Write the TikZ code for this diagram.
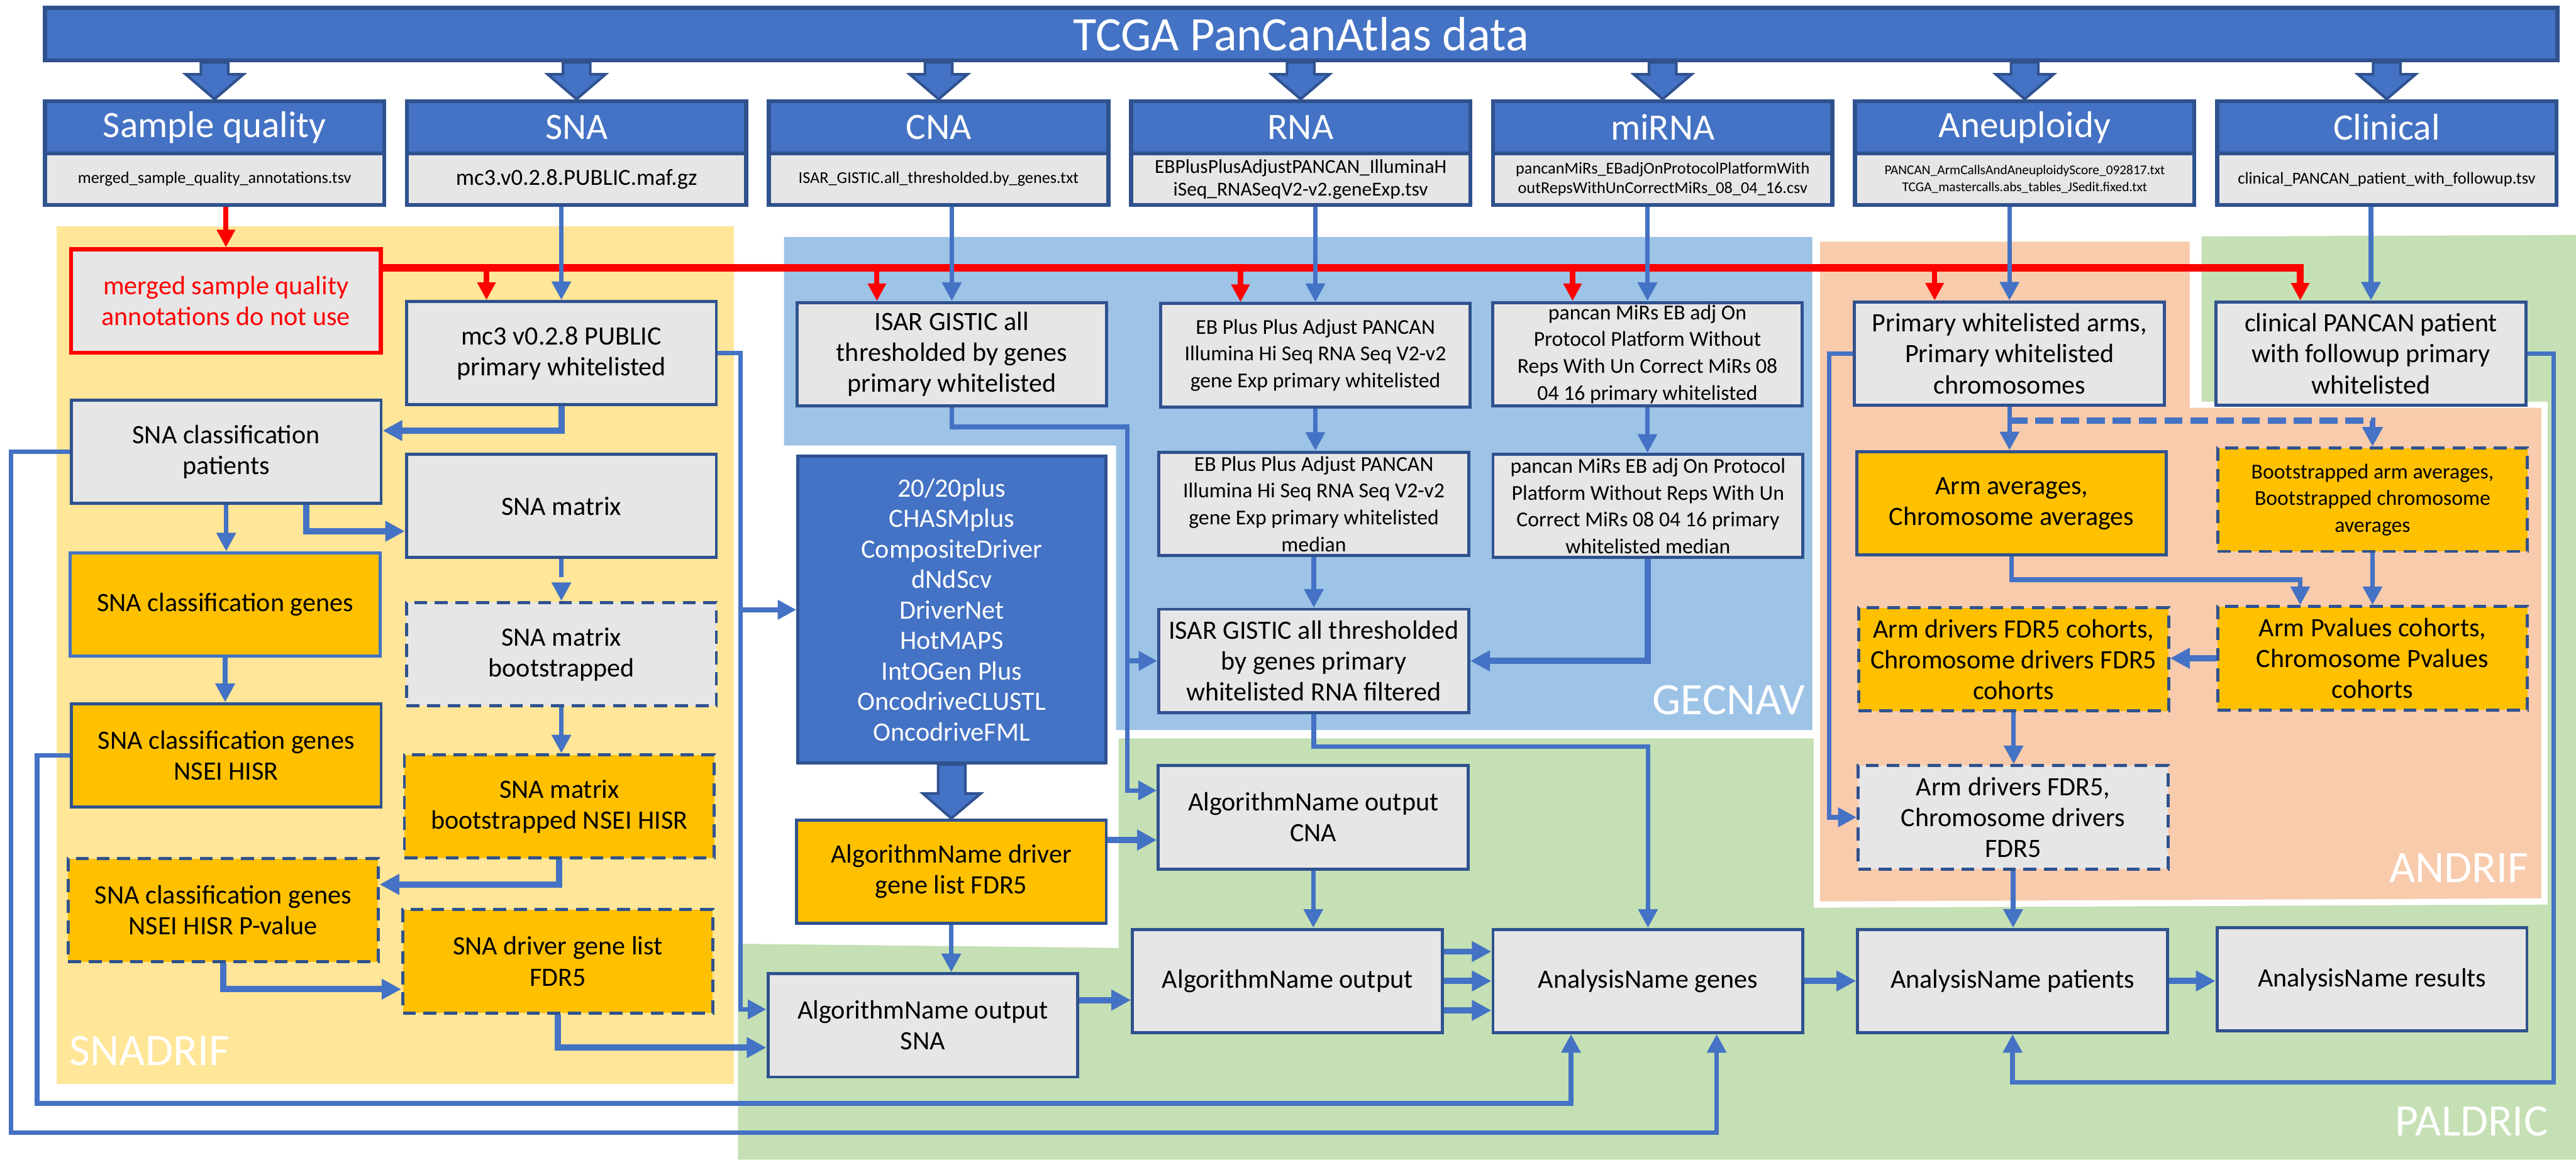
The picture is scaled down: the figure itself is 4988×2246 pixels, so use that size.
\documentclass[tikz,border=0pt]{standalone}
\usepackage{fontspec}
\setmainfont{Carlito}
\usetikzlibrary{arrows.meta,calc}

\definecolor{hdrblue}{HTML}{4472C4}
\definecolor{edgeblue}{HTML}{2F528F}
\definecolor{boxgray}{HTML}{E7E6E6}
\definecolor{boxorange}{HTML}{FFC000}
\definecolor{snayellow}{HTML}{FFE699}
\definecolor{gecblue}{HTML}{9DC3E6}
\definecolor{anpeach}{HTML}{F8CBAD}
\definecolor{palgreen}{HTML}{C5E0B4}

\tikzset{
  colhead/.style={draw=edgeblue, fill=hdrblue, line width=0.8mm, minimum width=65.7mm, minimum height=10.1mm, inner sep=0pt, text=white, font=\fontsize{20.5pt}{24pt}\selectfont},
  colfile/.style={draw=edgeblue, fill=boxgray, line width=0.8mm, minimum width=65.7mm, minimum height=10mm, inner sep=0pt, align=center},
  gbox/.style={draw=edgeblue, fill=boxgray, line width=0.6mm, minimum width=60mm, minimum height=20mm, inner sep=0pt, align=center, font=\fontsize{14.6pt}{17pt}\selectfont},
  obox/.style={gbox, fill=boxorange},
  dbox/.style={dash pattern=on 2.5mm off 1.5mm},
  smalltext/.style={font=\fontsize{11.7pt}{14.8pt}\selectfont},
  conn/.style={hdrblue, line width=0.9mm, -{Triangle[width=3.6mm,length=3.6mm]}},
  fat/.style={hdrblue, line width=1.2mm, -{Triangle[width=3.8mm,length=3.8mm]}},
  dconn/.style={fat, dash pattern=on 3.5mm off 1.5mm},
  redarr/.style={red, line width=1mm, -{Triangle[width=3.4mm,length=3.4mm]}},
  blockarr/.style={fill=hdrblue, draw=edgeblue, line width=0.5mm},
  arealabel/.style={text=white, inner sep=0pt, font=\fontsize{24.8pt}{28pt}\selectfont}
}

% wide block arrow pointing down
\newcommand{\blockdown}[2]{%
  \path[blockarr] let \p1=(#1), \p2=(#2) in
    (\x1-2.65mm,\y1) -- (\x1+2.65mm,\y1) -- (\x1+2.65mm,\y2+4.8mm) -- (\x1+5.6mm,\y2+4.8mm)
    -- (\x2,\y2) -- (\x1-5.6mm,\y2+4.8mm) -- (\x1-2.65mm,\y2+4.8mm) -- cycle;}

\begin{document}
\begin{tikzpicture}[x=0.1mm,y=-0.1mm]
\useasboundingbox (0,0) rectangle (4988,2246);

% areas
\fill[snayellow] (109,438) rectangle (1421,2099);
\fill[palgreen] (1429,1828) -- (2166,1836) -- (2166,1430) -- (3514,1430) -- (3514,786) -- (4263,786) -- (4263,458) -- (4988,455) -- (4988,2246) -- (1429,2246) -- cycle;
\fill[gecblue] (1518,459) -- (3509,459) -- (3509,1414) -- (2161,1414) -- (2161,863) -- (1518,863) -- cycle;
\filldraw[fill=anpeach, draw=white, line width=1.2mm] (3518,462) -- (4246,462) -- (4246,784) -- (4927,784) -- (4927,1746) -- (3518,1752) -- cycle;

% header and data sources
\node[draw=edgeblue, fill=hdrblue, line width=0.8mm, minimum width=486.5mm, minimum height=10.2mm, inner sep=0pt, text=white, font=\fontsize{26.5pt}{30pt}\selectfont] (hdr) at (2519.5,66) {TCGA PanCanAtlas data};

\node[colhead] (sqH) at (415.5,246.5) {Sample quality};
\node[colhead] (snaH) at (1116.5,246.5) {SNA};
\node[colhead] (cnaH) at (1817.5,246.5) {CNA};
\node[colhead] (rnaH) at (2518.5,246.5) {RNA};
\node[colhead] (mirH) at (3219.5,246.5) {miRNA};
\node[colhead] (aneH) at (3920.5,246.5) {Aneuploidy};
\node[colhead] (cliH) at (4621.5,246.5) {Clinical};

\node[colfile, font=\fontsize{9.1pt}{11pt}\selectfont] (sqF) at (415.5,347) {merged\_sample\_quality\_annotations.tsv};
\node[colfile, font=\fontsize{12.7pt}{15pt}\selectfont] (snaF) at (1116.5,347) {mc3.v0.2.8.PUBLIC.maf.gz};
\node[colfile, font=\fontsize{9.1pt}{11pt}\selectfont] (cnaF) at (1817.5,347) {ISAR\_GISTIC.all\_thresholded.by\_genes.txt};
\node[colfile, font=\fontsize{10.9pt}{12.5pt}\selectfont] (rnaF) at (2518.5,347) {EBPlusPlusAdjustPANCAN\_IlluminaH\\iSeq\_RNASeqV2-v2.geneExp.tsv};
\node[colfile, font=\fontsize{9.1pt}{10.5pt}\selectfont] (mirF) at (3219.5,347) {pancanMiRs\_EBadjOnProtocolPlatformWith\\outRepsWithUnCorrectMiRs\_08\_04\_16.csv};
\node[colfile, font=\fontsize{7.4pt}{9.4pt}\selectfont] (aneF) at (3920.5,347) {PANCAN\_ArmCallsAndAneuploidyScore\_092817.txt\\TCGA\_mastercalls.abs\_tables\_JSedit.fixed.txt};
\node[colfile, font=\fontsize{9.2pt}{11pt}\selectfont] (cliF) at (4621.5,347) {clinical\_PANCAN\_patient\_with\_followup.tsv};

% whitelisted inputs
\node[gbox, draw=red, line width=0.8mm, text=red] (bad) at (437.5,583) {merged sample quality\\annotations do not use};
\node[gbox] (mc3P) at (1087,684) {mc3 v0.2.8 PUBLIC\\primary whitelisted};
\node[gbox] (cnaP) at (1843,686) {ISAR GISTIC all\\thresholded by genes\\primary whitelisted};
\node[gbox, smalltext] (rnaP) at (2547,688) {EB Plus Plus Adjust PANCAN\\Illumina Hi Seq RNA Seq V2-v2\\gene Exp primary whitelisted};
\node[gbox, smalltext] (mirP) at (3190,686) {pancan MiRs EB adj On\\Protocol Platform Without\\Reps With Un Correct MiRs 08\\04 16 primary whitelisted};
\node[gbox] (aneP) at (3891,685) {Primary whitelisted arms,\\Primary whitelisted\\chromosomes};
\node[gbox] (cliP) at (4591,685) {clinical PANCAN patient\\with followup primary\\whitelisted};

% SNADRIF
\node[gbox] (patients) at (438,875) {SNA classification\\patients};
\node[gbox] (matrix) at (1087,980) {SNA matrix};
\node[obox, draw=hdrblue] (classGenes) at (436,1171) {SNA classification genes};
\node[gbox, dbox] (boot) at (1087,1267) {SNA matrix\\bootstrapped};
\node[obox] (nsei) at (438,1463) {SNA classification genes\\NSEI HISR};
\node[obox, dbox] (bootNsei) at (1083,1562) {SNA matrix\\bootstrapped NSEI HISR};
\node[obox, dbox] (pvalS) at (432,1763) {SNA classification genes\\NSEI HISR P-value};
\node[obox, dbox] (drvList) at (1080,1862) {SNA driver gene list\\FDR5};

% driver algorithms
\node[draw=edgeblue, fill=hdrblue, line width=0.6mm, minimum width=59.6mm, minimum height=59.4mm, inner sep=0pt, align=center, text=white, font=\fontsize{14.6pt}{16.8pt}\selectfont] (algo) at (1843,1181) {20/20plus\\CHASMplus\\CompositeDriver\\dNdScv\\DriverNet\\HotMAPS\\IntOGen Plus\\OncodriveCLUSTL\\OncodriveFML};
\node[obox] (algoList) at (1842,1688) {AlgorithmName driver\\gene list FDR5};

% GECNAV
\node[gbox, smalltext] (rnaM) at (2544,976) {EB Plus Plus Adjust PANCAN\\Illumina Hi Seq RNA Seq V2-v2\\gene Exp primary whitelisted\\median};
\node[gbox, smalltext] (mirM) at (3191,980) {pancan MiRs EB adj On Protocol\\Platform Without Reps With Un\\Correct MiRs 08 04 16 primary\\whitelisted median};
\node[gbox] (filtered) at (2544,1280) {ISAR GISTIC all thresholded\\by genes primary\\whitelisted RNA filtered};

% ANDRIF
\node[obox] (armAvg) at (3895,975) {Arm averages,\\Chromosome averages};
\node[obox, dbox, smalltext] (bootArm) at (4594,968) {Bootstrapped arm averages,\\Bootstrapped chromosome\\averages};
\node[obox, dbox] (pvalA) at (4594,1275) {Arm Pvalues cohorts,\\Chromosome Pvalues\\cohorts};
\node[obox, dbox] (armDrC) at (3899,1277) {Arm drivers FDR5 cohorts,\\Chromosome drivers FDR5\\cohorts};
\node[gbox, dbox] (armDr) at (3898,1583) {Arm drivers FDR5,\\Chromosome drivers\\FDR5};

% PALDRIC
\node[gbox] (snaOut) at (1787,1986) {AlgorithmName output\\SNA};
\node[gbox] (cnaOut) at (2543,1583) {AlgorithmName output\\CNA};
\node[gbox] (algOut) at (2493,1900) {AlgorithmName output};
\node[gbox] (genes) at (3191,1900) {AnalysisName genes};
\node[gbox] (patA) at (3897,1900) {AnalysisName patients};
\node[gbox] (results) at (4593,1897) {AnalysisName results};

% area names
\node[arealabel, anchor=base west] (snadrif) at (134,2064) {SNADRIF};
\node[arealabel, anchor=base east] (gecnav) at (3496,1384) {GECNAV};
\node[arealabel, anchor=base east] (andrif) at (4897,1709) {ANDRIF};
\node[arealabel, anchor=base east] (paldric) at (4934,2200) {PALDRIC};

% sample quality filter (red)
\coordinate (trunk) at ([yshift=6.4mm]bad.east);
\draw[redarr] (sqF.south -| bad.north) -- (bad.north);
\coordinate (dcliP) at ([xshift=-13.7mm]cliP.north);
\draw[redarr, line width=1.4mm] (trunk) -| (dcliP);
\foreach \n in {mc3P,cnaP,rnaP,mirP,aneP} {
  \coordinate (d\n) at ([xshift=-14.5mm]\n.north);
  \draw[redarr] (d\n |- trunk) -- (d\n);
}

% data files into whitelisted boxes
\foreach \f/\t in {snaF/mc3P,cnaF/cnaP,rnaF/rnaP,mirF/mirP,aneF/aneP,cliF/cliP}
  \draw[conn] (\f.south -| \t.north) -- (\t.north);

% SNADRIF flow
\draw[fat] (mc3P.south) |- ([yshift=4.1mm]patients.east);
\draw[conn] (patients.south) -- (patients.south |- classGenes.north);
\draw[fat] ([xshift=15.5mm]patients.south) |- ([yshift=-4.9mm]matrix.west);
\draw[conn, dash pattern=on 3.5mm off 1.3mm] (matrix.south) -- (boot.north);
\draw[conn] (classGenes.south) -- (classGenes.south |- nsei.north);
\draw[conn] (boot.south) -- (boot.south |- bootNsei.north);
\draw[fat] (bootNsei.south) |- ([yshift=5mm]pvalS.east);
\draw[fat] (pvalS.south) |- ([yshift=-5.4mm]drvList.west);
\draw[fat] (drvList.south) |- ([yshift=-4.3mm]snaOut.west);

% long loops to AnalysisName genes
\coordinate (loopA) at (72,2137);
\coordinate (loopB) at (21,2194);
\draw[conn] (nsei.west) -| (loopA) -| ([xshift=-14.9mm]genes.south);
\draw[conn] (patients.west) -| (loopB) -| ([xshift=13.3mm]genes.south);

% whitelisted SNA to algorithms
\coordinate (mcBus) at (1434,1955);
\draw[conn] (mc3P.east) -| (mcBus) |- ([yshift=3.1mm]snaOut.west);
\draw[conn] (mcBus |- algo.west) -- (algo.west);
\blockdown{algo.south}{algoList.north}
\draw[conn] (algoList.south) -- (algoList.south |- snaOut.north);
\coordinate (cnaIn) at ([yshift=-4.4mm]cnaOut.west);
\draw[fat] (algoList.east |- cnaIn) -- (cnaIn);

% GECNAV flow
\coordinate (cnaBus) at (2183,827);
\draw[conn] (cnaP.south) |- (cnaBus) |- ([yshift=5.2mm]cnaOut.west);
\draw[conn] (cnaBus |- filtered.west) -- (filtered.west);
\draw[conn] (rnaP.south) -- (rnaP.south |- rnaM.north);
\draw[conn] (rnaM.south) -- (filtered.north);
\draw[conn] (mirP.south) -- (mirP.south |- mirM.north);
\draw[fat] (mirM.south) |- (filtered.east);
\coordinate (filtBend) at (3191,1446);
\draw[conn] (filtered.south) |- (filtBend) -- (genes.north);

% PALDRIC flow
\draw[conn] (cnaOut.south) -- (cnaOut.south |- algOut.north);
\draw[fat] ([yshift=4.9mm]snaOut.east) -- ([yshift=4.9mm]snaOut.east -| algOut.west);
\foreach \s in {-5.7,0,5.7}
  \draw[fat] ([yshift=\s mm]algOut.east) -- ([yshift=\s mm]algOut.east -| genes.west);
\draw[fat] (genes.east) -- (genes.east -| patA.west);
\draw[fat] (patA.east) -- (patA.east -| results.west);
\coordinate (cliBus) at (4945,2096);
\draw[conn] (cliP.east) -| (cliBus) -| (patA.south);

% ANDRIF flow
\coordinate (aneBus) at (3542,1583);
\draw[conn] (aneP.west) -| (aneBus) -- (armDr.west);
\draw[conn] (aneP.south) -- (aneP.south |- armAvg.north);
\coordinate (aneSplit) at ([yshift=-2.7mm]aneP.south);
\draw[dconn] (aneSplit) -| (bootArm.north);
\coordinate (avgBend) at (4454,1123);
\draw[conn] (armAvg.south) |- (avgBend) -- (avgBend |- pvalA.north);
\draw[conn] (bootArm.south) -- (bootArm.south |- pvalA.north);
\draw[fat] (pvalA.west) -- (pvalA.west -| armDrC.east);
\draw[conn] (armDrC.south) -- (armDrC.south |- armDr.north);
\draw[conn] (armDr.south) -- (armDr.south |- patA.north);

% source arrows
\foreach \c in {sqH,snaH,cnaH,rnaH,mirH,aneH,cliH}
  \blockdown{hdr.south -| \c.north}{\c.north};
\end{tikzpicture}
\end{document}
